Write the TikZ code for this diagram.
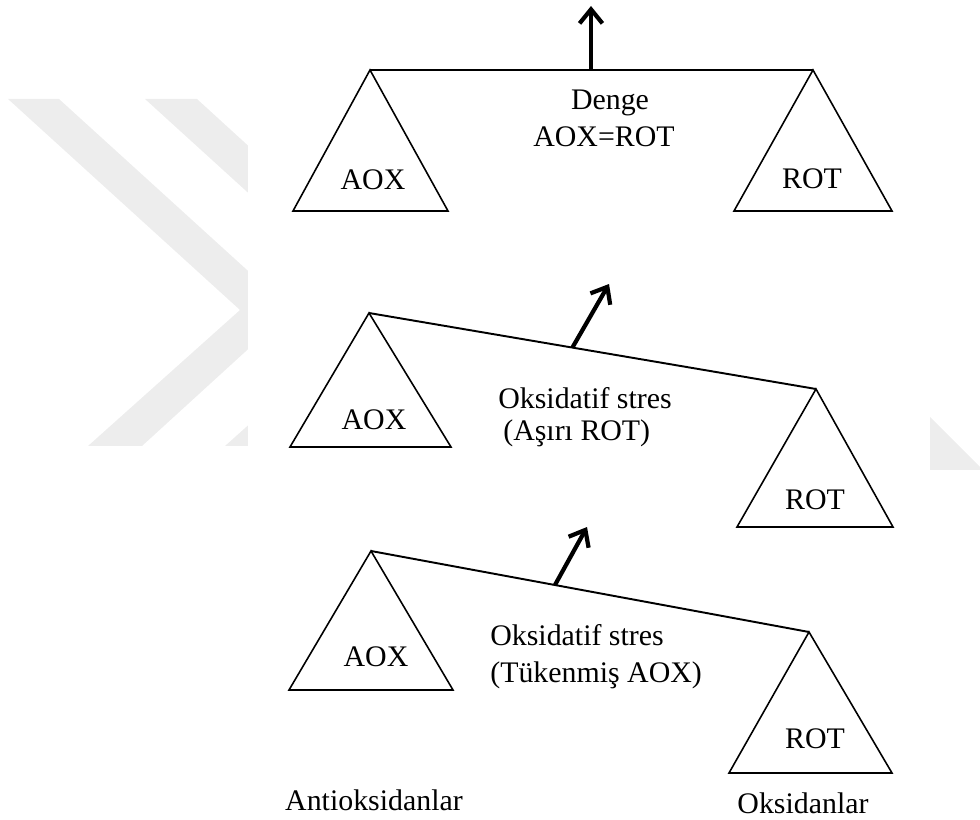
\documentclass[tikz,border=0pt]{standalone}
\usepackage{fontspec}
\setmainfont{Liberation Serif}
\usetikzlibrary{arrows.meta,calc}
\begin{document}
\begin{tikzpicture}[x=0.02cm,y=-0.02cm,
    pan/.style={draw=black,line width=0.9pt,line join=miter},
    beam/.style={draw=black,line width=1.1pt},
    lift/.style={draw=black,line width=2.4pt,-{Straight Barb[length=8pt,width=13pt]}},
    lbl/.style={font=\fontsize{17}{20}\selectfont,inner sep=0pt,anchor=base},
    lblw/.style={lbl,anchor=base west},
    wm/.style={fill=black!7,draw=none}]
                \useasboundingbox (0,0) rectangle (980,820);

                \fill[wm] (8,99) -- (59,99) -- (291,310) -- (142,446) -- (88,446) -- (240,310) -- cycle;
                \fill[wm] (145,99) -- (197,99) -- (428,310) -- (279,446) -- (225,446) -- (377,310) -- cycle;
                \fill[wm] (930,417) -- (983,470) -- (930,470) -- cycle;
                \fill[white] (248,0) rectangle (930,820);

                \coordinate (topL) at (370,70);
                \coordinate (topR) at (813,70);
                \coordinate (topP) at (591,70);
                \coordinate (topT) at (591,6);

                \coordinate (midL) at (369,313);
                \coordinate (midR) at (816,389);
                \coordinate (midP) at ($(midL)!0.455!(midR)$);
                \coordinate (midT) at (609,284);

                \coordinate (botL) at (371,551);
                \coordinate (botR) at (809,632);
                \coordinate (botP) at ($(botL)!0.42!(botR)$);
                \coordinate (botT) at (587,527);

                \draw[pan] (topL) -- ++(-77,141) -- ++(155,0) -- cycle;
                \draw[pan] (topR) -- ++(-79,141) -- ++(158,0) -- cycle;
                \draw[pan] (midL) -- ++(-79,134) -- ++(161,0) -- cycle;
                \draw[pan] (midR) -- ++(-79,138) -- ++(156,0) -- cycle;
                \draw[pan] (botL) -- ++(-82,139) -- ++(164,0) -- cycle;
                \draw[pan] (botR) -- ++(-80,141) -- ++(163,0) -- cycle;

                \draw[beam] (topL) -- (topR);
                \draw[beam] (midL) -- (midR);
                \draw[beam] (botL) -- (botR);

                \draw[lift] (topP) -- (topT);
                \draw[lift] (midP) -- (midT);
                \draw[lift] (botP) -- (botT);

                \node[lbl] (topAOX) at (373,190) {AOX};
                \node[lbl] (topROT) at (812,189) {ROT};
                \node[lbl] (denge) at (610,110) {Denge};
                \node[lbl] (esit) at (604,147) {AOX=ROT};

                \node[lbl] (midAOX) at (374,430) {AOX};
                \node[lbl] (midROT) at (815,509) {ROT};
                \node[lblw] (midS1) at (498,409) {Oksidatif stres};
                \node[lblw] (midS2) at (503,440) {(Aşırı ROT)};

                \node[lbl] (botAOX) at (376,666) {AOX};
                \node[lbl] (botROT) at (815,748) {ROT};
                \node[lblw] (botS1) at (490,645) {Oksidatif stres};
                \node[lblw] (botS2) at (490,682) {(Tükenmiş AOX)};

                \node[lbl] (anti) at (374,810) {Antioksidanlar};
                \node[lbl] (oks) at (803,813) {Oksidanlar};

            \end{tikzpicture}
\end{document}
